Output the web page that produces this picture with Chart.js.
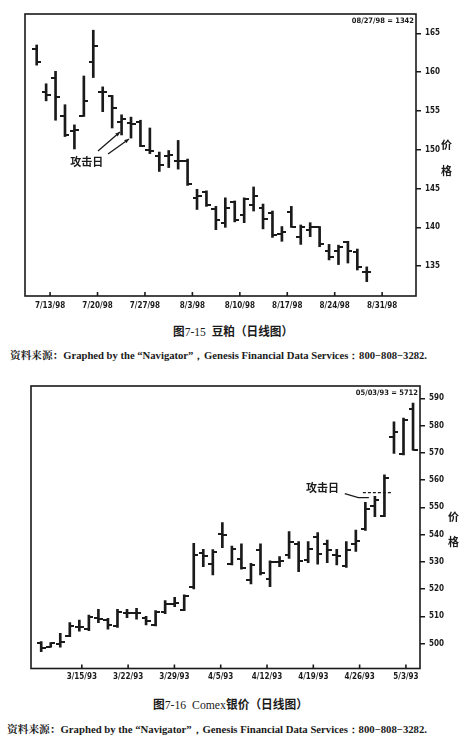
<!DOCTYPE html>
<html>
<head>
<meta charset="utf-8">
<script src="https://cdn.jsdelivr.net/npm/chart.js@4.4.0/dist/chart.umd.min.js"></script>
<style>
body { margin:0; background:#fff; width:462px; height:754px; position:relative; overflow:hidden; color:#1a1a1a; }
.box { position:absolute; left:0; width:462px; }
.t { position:absolute; white-space:nowrap; line-height:1; transform-origin:0 50%; }
.cjk { font-family:"Noto Sans CJK SC", sans-serif; font-weight:700; }
.ser { font-family:"Liberation Serif", serif; }
.yt { font-family:"Noto Sans CJK SC", sans-serif; font-weight:700; font-size:11px; }
</style>
</head>
<body>
<div class="box" style="top:0;height:318px"><canvas id="c1"></canvas></div>
<div class="box" style="top:372px;height:318px"><canvas id="c2"></canvas></div>

<div class="t yt" style="left:441px;top:139px">价</div>
<div class="t yt" style="left:441px;top:165px">格</div>
<div class="t yt" style="left:448px;top:511px">价</div>
<div class="t yt" style="left:448px;top:536px">格</div>

<div class="t fit" data-x="173" data-w="120" style="top:325px;font-size:12px"><span class="cjk">图</span><span class="ser">7-15&nbsp;&nbsp;</span><span class="cjk">豆粕（日线图）</span></div>
<div class="t fit" data-x="10" data-w="417" style="top:350px;font-size:10px"><span class="cjk" style="font-family:'Noto Serif CJK SC','Noto Sans CJK SC'">资料来源：</span><span class="ser" style="font-weight:700">Graphed by the “Navigator”，Genesis Financial Data Services：800−808−3282.</span></div>

<div class="t fit" data-x="153" data-w="155" style="top:698px;font-size:12px"><span class="cjk">图</span><span class="ser">7-16&nbsp;&nbsp;Comex</span><span class="cjk">银价（日线图）</span></div>
<div class="t fit" data-x="7" data-w="420" style="top:724px;font-size:10px"><span class="cjk" style="font-family:'Noto Serif CJK SC','Noto Sans CJK SC'">资料来源：</span><span class="ser" style="font-weight:700">Graphed by the “Navigator”，Genesis Financial Data Services：800−808−3282.</span></div>

<script>
// 图7-15 豆粕 日线
var soyDates = ['7/9','7/10','7/13','7/14','7/15','7/16','7/17','7/20','7/21','7/22','7/23','7/24',
  '7/27','7/28','7/29','7/30','7/31','8/3','8/4','8/5','8/6','8/7','8/10','8/11','8/12','8/13','8/14',
  '8/17','8/18','8/19','8/20','8/21','8/24','8/25','8/26','8/27'];
var soyOpen  = [163.0,157.5,159.2,154.4,152.4,154.4,161.3,157.4,156.9,153.6,153.4,153.6,149.9,149.2,149.2,148.5,148.6,143.8,144.6,142.3,140.5,143.3,141.6,142.9,142.5,141.8,139.2,142.0,138.8,139.6,140.1,137.0,137.0,138.1,136.8,134.2];
var soyHigh  = [163.5,158.5,160.1,155.8,153.2,159.5,165.4,158.1,157.0,154.5,154.2,153.8,152.8,149.7,149.9,151.2,148.8,144.9,144.7,142.7,143.8,143.4,143.8,145.2,143.0,142.1,140.1,142.7,140.3,140.6,140.1,137.8,137.7,138.2,137.2,134.9];
var soyLow   = [160.9,156.3,153.8,151.7,150.1,154.3,159.3,154.9,152.8,151.9,151.5,150.4,149.5,147.2,147.7,147.5,145.4,142.3,142.7,139.7,140.0,140.7,140.6,142.1,139.8,138.7,138.2,140.0,137.8,138.8,137.5,135.8,135.2,135.4,134.5,133.0];
var soyClose = [161.3,157.1,156.8,151.9,152.5,156.3,163.4,157.4,155.4,153.9,153.3,150.5,149.8,148.0,149.3,148.6,145.6,144.0,142.9,141.0,142.5,141.0,143.7,144.0,141.1,139.0,139.4,140.1,140.1,140.0,137.8,136.2,137.5,137.0,134.9,134.2];
var soyXLabels = ['7/13/98','7/20/98','7/27/98','8/3/98','8/10/98','8/17/98','8/24/98','8/31/98'];
var soyYTicks = [135,140,145,150,155,160,165];

// 图7-16 Comex银价 日线
var silverDates = ['3/8','3/9','3/10','3/11','3/12','3/15','3/16','3/17','3/18','3/19','3/22','3/23','3/24','3/25','3/26',
  '3/29','3/30','3/31','4/1','4/2','4/5','4/6','4/7','4/8','4/12','4/13','4/14','4/15','4/16',
  '4/19','4/20','4/21','4/22','4/23','4/26','4/27','4/28','4/29','4/30','5/3'];
var silverOpen  = [500.2,498.9,500.0,502.8,506.2,505.5,509.3,508.6,506.5,511.4,511.2,509.3,506.9,511.7,514.6,512.4,520.8,533.2,529.4,540.2,529.2,531.0,523.4,534.4,523.6,529.8,532.5,536.6,530.7,539.3,536.6,532.5,528.5,536.6,542.0,550.5,546.8,575.9,569.6,586.0];
var silverHigh  = [500.8,500.4,503.8,507.7,508.7,510.5,512.6,509.3,512.6,512.6,513.0,510.0,512.1,515.8,517.0,517.9,536.8,534.6,534.5,544.4,535.8,536.6,529.5,536.6,530.4,531.9,541.1,537.4,537.4,540.7,538.0,534.6,537.4,541.7,551.8,554.0,561.9,581.4,582.7,588.2];
var silverLow   = [497.1,498.7,498.7,502.6,504.6,504.8,507.7,505.3,506.0,509.5,509.0,506.9,506.5,511.0,513.6,512.1,520.1,528.2,525.2,535.2,528.9,527.3,521.9,525.2,520.9,528.2,531.3,526.4,529.7,529.2,529.7,528.9,528.0,533.8,541.5,546.6,546.6,569.8,569.2,571.0];
var silverClose = [498.5,500.2,500.8,506.5,506.0,509.9,508.9,506.9,511.8,511.3,511.2,508.4,511.7,514.4,515.0,517.5,532.5,532.0,533.8,539.7,534.6,527.7,528.9,526.1,530.1,530.2,537.4,530.4,534.6,533.0,534.4,532.2,534.4,537.8,549.3,552.8,560.7,577.8,582.0,571.2];
var silverXLabels = ['3/15/93','3/22/93','3/29/93','4/5/93','4/12/93','4/19/93','4/26/93','5/3/93'];
var silverYTicks = [500,510,520,530,540,550,560,570,580,590];

var ink = '#1a1a1a';
var narrow = '"Liberation Sans Narrow", "DejaVu Sans Condensed", sans-serif';

// open = tick to the left, close = tick to the right
function tickImg(side) {
  var c = document.createElement('canvas');
  c.width = 9; c.height = 2;
  var g = c.getContext('2d');
  g.fillStyle = ink;
  if (side == 'L') g.fillRect(0, 0, 4.5, 2); else g.fillRect(4.5, 0, 4.5, 2);
  return c;
}

var framePlugin = {
  id: 'frame',
  afterDraw: function(chart, args, o) {
    var a = chart.chartArea, ctx = chart.ctx, xs = chart.scales.x, ys = chart.scales.y;
    ctx.save();
    ctx.strokeStyle = ink; ctx.fillStyle = ink; ctx.lineWidth = 1.6;
    ctx.strokeRect(a.left, a.top, a.right - a.left, a.bottom - a.top);
    // little ticks pointing up from the bottom
    xs.ticks.forEach(function(t) {
      var px = xs.getPixelForValue(t.value);
      ctx.beginPath(); ctx.moveTo(px, a.bottom); ctx.lineTo(px, a.bottom - 4); ctx.stroke();
    });
    ctx.font = 'bold 7.5px ' + narrow;
    ctx.textAlign = 'right'; ctx.textBaseline = 'middle';
    ctx.fillText(o.header, a.right - 2, a.top + 7);
    // 攻击日
    ctx.font = 'bold 11px "Noto Sans CJK SC"';
    ctx.textAlign = 'center';
    ctx.fillText('攻击日', xs.getPixelForValue(o.note[0]), ys.getPixelForValue(o.note[1]));
    ctx.lineWidth = 1.3;
    (o.arrows || []).forEach(function(p) {
      var x1 = xs.getPixelForValue(p[0]), y1 = ys.getPixelForValue(p[1]);
      var x2 = xs.getPixelForValue(p[2]), y2 = ys.getPixelForValue(p[3]);
      ctx.beginPath(); ctx.moveTo(x1, y1); ctx.lineTo(x2, y2); ctx.stroke();
      var ang = Math.atan2(y2 - y1, x2 - x1);
      ctx.beginPath();
      ctx.moveTo(x2, y2);
      ctx.lineTo(x2 - 5 * Math.cos(ang - 0.4), y2 - 5 * Math.sin(ang - 0.4));
      ctx.lineTo(x2 - 5 * Math.cos(ang + 0.4), y2 - 5 * Math.sin(ang + 0.4));
      ctx.closePath(); ctx.fill();
    });
    if (o.path) {
      ctx.beginPath();
      o.path.forEach(function(p, i) {
        var x = xs.getPixelForValue(p[0]), y = ys.getPixelForValue(p[1]);
        if (i == 0) ctx.moveTo(x, y); else ctx.lineTo(x, y);
      });
      ctx.stroke();
    }
    if (o.dash) {
      ctx.setLineDash([3, 2]);
      var yd = ys.getPixelForValue(o.dash[2]);
      ctx.beginPath();
      ctx.moveTo(xs.getPixelForValue(o.dash[0]), yd);
      ctx.lineTo(xs.getPixelForValue(o.dash[1]), yd);
      ctx.stroke();
    }
    ctx.restore();
  }
};

function ohlcChart(id, dates, open, high, low, close, xLabels, yTicks, lay, frame) {
  var idx = dates.map(function(d, i) { return i; });
  var font = { family: narrow, size: 8, weight: 'bold' };
  return new Chart(document.getElementById(id), {
    type: 'bar',
    data: {
      datasets: [
        { type: 'bar', data: idx.map(function(i) { return { x: i, y: [low[i], high[i]] }; }),
          backgroundColor: ink, barThickness: 2, borderWidth: 0 },
        { type: 'line', data: idx.map(function(i) { return { x: i, y: open[i] }; }),
          showLine: false, pointStyle: tickImg('L'), pointRadius: 3, pointHoverRadius: 3 },
        { type: 'line', data: idx.map(function(i) { return { x: i, y: close[i] }; }),
          showLine: false, pointStyle: tickImg('R'), pointRadius: 3, pointHoverRadius: 3 }
      ]
    },
    options: {
      responsive: true,
      maintainAspectRatio: false,
      animation: false,
      events: [],
      layout: { padding: { left: lay.left, top: lay.top, right: 0, bottom: 0 } },
      plugins: { legend: { display: false }, tooltip: { enabled: false }, frame: frame },
      scales: {
        x: {
          type: 'linear', min: lay.xMin, max: lay.xMax, offset: false,
          grid: { display: false, drawTicks: false, offset: false }, border: { display: false },
          afterBuildTicks: function(ax) {
            ax.ticks = xLabels.map(function(l, i) { return { value: lay.tickStart + i * lay.tickStep }; });
          },
          afterFit: function(ax) { ax.height = lay.xAxisH; },
          ticks: { autoSkip: false, maxRotation: 0, padding: lay.xPad, color: ink, font: font,
            callback: function(v, i) { return xLabels[i]; } }
        },
        y: {
          type: 'linear', position: 'right', min: lay.yMin, max: lay.yMax,
          grid: { drawOnChartArea: false, drawTicks: true, tickLength: 5, color: ink, lineWidth: 1.5 },
          border: { display: false },
          afterBuildTicks: function(ax) { ax.ticks = yTicks.map(function(v) { return { value: v }; }); },
          afterFit: function(ax) { ax.width = lay.yAxisW; },
          ticks: { padding: 4, color: ink, font: font }
        }
      }
    },
    plugins: [framePlugin]
  });
}

ohlcChart('c1', soyDates, soyOpen, soyHigh, soyLow, soyClose, soyXLabels, soyYTicks,
  { left: 25, top: 14, xAxisH: 22, yAxisW: 46, xMin: -1.24, xMax: 40.22, yMin: 131.15, yMax: 167.49,
    tickStart: 1.42, tickStep: 5.03, xPad: 5 },
  { header: '08/27/98 = 1342', note: [5.3, 148.4],
    arrows: [[6.5, 149.83, 8.83, 152.28], [7.56, 149.44, 9.79, 151.38]] });

ohlcChart('c2', silverDates, silverOpen, silverHigh, silverLow, silverClose, silverXLabels, silverYTicks,
  { left: 31, top: 14, xAxisH: 21.5, yAxisW: 42, xMin: -1.07, xMax: 39.73, yMin: 490.9, yMax: 594.5,
    tickStart: 4.26, tickStep: 4.856, xPad: 4 },
  { header: '05/03/93 = 5712', note: [29.5, 557.1],
    path: [[31.84, 555.0], [33.26, 553.6], [34.37, 553.6]], dash: [33.74, 36.68, 555.4] });

// stretch the captions to the width they have in the book
document.querySelectorAll('.fit').forEach(function(el) {
  el.style.left = el.dataset.x + 'px';
  var w = el.getBoundingClientRect().width;
  el.style.transform = 'scaleX(' + (el.dataset.w / w) + ')';
});
</script>
</body>
</html>
